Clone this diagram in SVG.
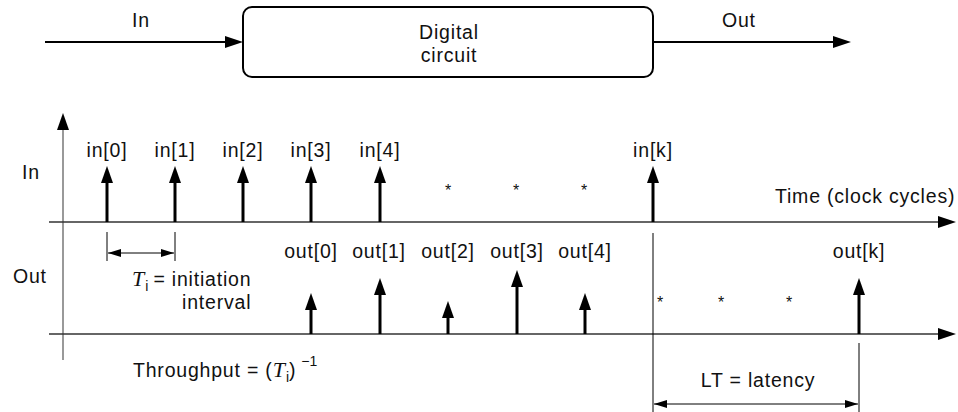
<svg xmlns="http://www.w3.org/2000/svg" width="958" height="412" viewBox="0 0 958 412">
<defs>
<style>
text{font-family:"Liberation Sans",Arial,sans-serif;font-size:19.5px;letter-spacing:0.8px;fill:#111}
.m{text-anchor:middle}
.ast{font-size:16px;letter-spacing:0}
.it{font-family:"Liberation Serif","Times New Roman",serif;font-style:italic;font-size:22px;letter-spacing:0}
.sub{font-size:14px;letter-spacing:0}
.stem{stroke:#000;stroke-width:3;fill:none;marker-end:url(#head)}
.ax{stroke:#333;stroke-width:1.3;fill:none}
.thin{stroke:#000;stroke-width:1;fill:none}
</style>
<marker id="head" viewBox="0 0 17 12" markerWidth="17" markerHeight="12" refX="7" refY="6" orient="auto" markerUnits="userSpaceOnUse">
<path d="M0,0 L17,6 L0,12 z" fill="#000"/>
</marker>
<marker id="axh" viewBox="0 0 18 12" markerWidth="18" markerHeight="12" refX="8" refY="6" orient="auto" markerUnits="userSpaceOnUse">
<path d="M0,0 L18,6 L0,12 z" fill="#000"/>
</marker>
<marker id="dim" viewBox="0 0 13 8" markerWidth="13" markerHeight="8" refX="13" refY="4" orient="auto-start-reverse" markerUnits="userSpaceOnUse">
<path d="M0,0 L13,4 L0,8 z" fill="#000"/>
</marker>
</defs>

<g id="circuit">
<rect x="243" y="7" width="410" height="70" rx="9" ry="9" fill="#fff" stroke="#000" stroke-width="2"/>
<text class="m" x="449" y="39">Digital</text>
<text class="m" x="449" y="62">circuit</text>
</g>

<g id="connectors">
<line x1="45" y1="42" x2="233" y2="42" stroke="#000" stroke-width="2" marker-end="url(#axh)"/>
<line x1="653" y1="42" x2="841" y2="42" stroke="#000" stroke-width="2" marker-end="url(#axh)"/>
</g>
<text x="132" y="27">In</text>
<text x="722" y="27">Out</text>

<g id="axes">
<line x1="63" y1="360" x2="63" y2="123" stroke="#777" stroke-width="1.5" marker-end="url(#head)"/>
<line class="ax" x1="49" y1="222" x2="946" y2="222" marker-end="url(#axh)"/>
<line class="ax" x1="49" y1="334" x2="946" y2="334" marker-end="url(#axh)"/>
</g>
<text x="22" y="179">In</text>
<text x="13" y="283">Out</text>
<text x="775" y="203">Time (clock cycles)</text>

<g id="inputs">
<line class="stem" x1="107" y1="222" x2="107" y2="176"/>
<line class="stem" x1="175" y1="222" x2="175" y2="176"/>
<line class="stem" x1="243" y1="222" x2="243" y2="176"/>
<line class="stem" x1="311" y1="222" x2="311" y2="176"/>
<line class="stem" x1="380" y1="222" x2="380" y2="176"/>
<line class="stem" x1="653" y1="222" x2="653" y2="176"/>
<text class="m" x="107" y="157">in[0]</text>
<text class="m" x="175" y="157">in[1]</text>
<text class="m" x="243" y="157">in[2]</text>
<text class="m" x="311" y="157">in[3]</text>
<text class="m" x="380" y="157">in[4]</text>
<text class="m" x="653" y="157">in[k]</text>
<text class="m ast" x="448" y="196">*</text>
<text class="m ast" x="516" y="196">*</text>
<text class="m ast" x="584" y="196">*</text>
</g>

<g id="outputs">
<line class="stem" x1="311" y1="334" x2="311" y2="303"/>
<line class="stem" x1="380" y1="334" x2="380" y2="288"/>
<line class="stem" x1="448" y1="334" x2="448" y2="311"/>
<line class="stem" x1="517" y1="334" x2="517" y2="280"/>
<line class="stem" x1="585" y1="334" x2="585" y2="303"/>
<line class="stem" x1="859" y1="334" x2="859" y2="288"/>
<text class="m" x="311" y="258">out[0]</text>
<text class="m" x="379" y="258">out[1]</text>
<text class="m" x="448" y="258">out[2]</text>
<text class="m" x="517" y="258">out[3]</text>
<text class="m" x="585" y="258">out[4]</text>
<text class="m" x="859" y="258">out[k]</text>
<text class="m ast" x="660" y="308">*</text>
<text class="m ast" x="721" y="308">*</text>
<text class="m ast" x="789" y="308">*</text>
</g>

<g id="initiation">
<line class="thin" x1="107" y1="232" x2="107" y2="261"/>
<line class="thin" x1="175" y1="232" x2="175" y2="261"/>
<line class="thin" x1="108" y1="253" x2="174" y2="253" marker-start="url(#dim)" marker-end="url(#dim)"/>
<text x="132" y="286"><tspan class="it">T</tspan><tspan class="sub" dx="1" dy="5">i</tspan><tspan dx="5" dy="-5">= initiation</tspan></text>
<text x="182" y="309">interval</text>
</g>

<g id="throughput">
<text x="133" y="377">Throughput = (<tspan class="it">T</tspan><tspan class="sub" dx="1" dy="5">i</tspan><tspan dy="-5">)</tspan><tspan class="sub" dx="5" dy="-11">−1</tspan></text>
</g>

<g id="latency">
<line class="thin" x1="653" y1="233" x2="653" y2="412"/>
<line class="thin" x1="859" y1="343" x2="859" y2="412"/>
<line class="thin" x1="654" y1="404" x2="858" y2="404" marker-start="url(#dim)" marker-end="url(#dim)"/>
<text class="m" x="758" y="387">LT = latency</text>
</g>
</svg>
